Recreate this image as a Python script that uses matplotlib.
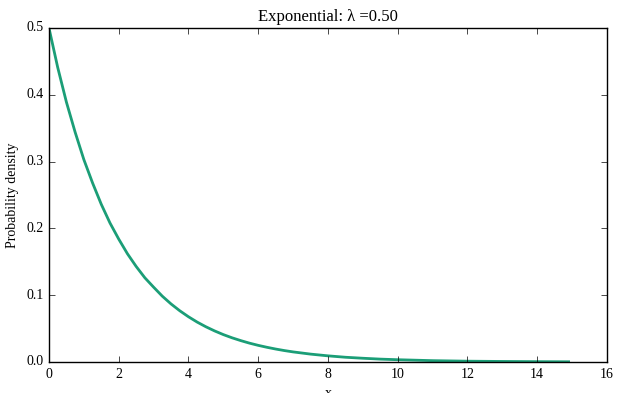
import numpy as np
import matplotlib
matplotlib.use("Agg")
import matplotlib.pyplot as plt

plt.style.use("classic")
plt.rcParams["font.family"] = ["Liberation Serif", "DejaVu Serif"]

lam = 0.5
# density values (denser where it bends most)
x = [0.0, 0.25, 0.5, 0.75, 1.0, 1.25, 1.5, 1.75, 2.0, 2.25, 2.5, 2.75,
     3.0, 3.25, 3.5, 3.75, 4.0, 4.25, 4.5, 4.75, 5.0, 5.25, 5.5, 5.75,
     6.0, 6.25, 6.5, 6.75, 7.0, 7.5, 8.0, 8.5, 9.0, 9.5, 10.0, 11.0,
     12.0, 13.0, 14.0, 14.9]
pdf = [0.500, 0.441, 0.389, 0.344, 0.303, 0.268, 0.236, 0.208, 0.184,
       0.162, 0.143, 0.126, 0.112, 0.0985, 0.0869, 0.0767, 0.0677, 0.0597,
       0.0527, 0.0465, 0.0410, 0.0362, 0.0320, 0.0282, 0.0249, 0.0220,
       0.0194, 0.0171, 0.0151, 0.0118, 0.0092, 0.0071, 0.0056, 0.0043,
       0.0034, 0.0020, 0.0012, 0.0008, 0.0005, 0.0003]

fig = plt.figure(figsize=(6.41, 3.93), dpi=100, facecolor="white")
ax = fig.add_axes([0.0764, 0.0789, 0.8705, 0.850])
ax.plot(x, pdf, color="#1b9e77", lw=2)
ax.set_xlim(0, 16)
ax.set_ylim(0, 0.5)
ax.set_xlabel("x", fontsize=10)
ax.set_ylabel("Probability density", fontsize=10)
ax.set_title("Exponential: \u03bb =%.2f" % lam, fontsize=12)
ax.tick_params(labelsize=10)

fig.savefig("out.png", dpi=100, facecolor="white")
